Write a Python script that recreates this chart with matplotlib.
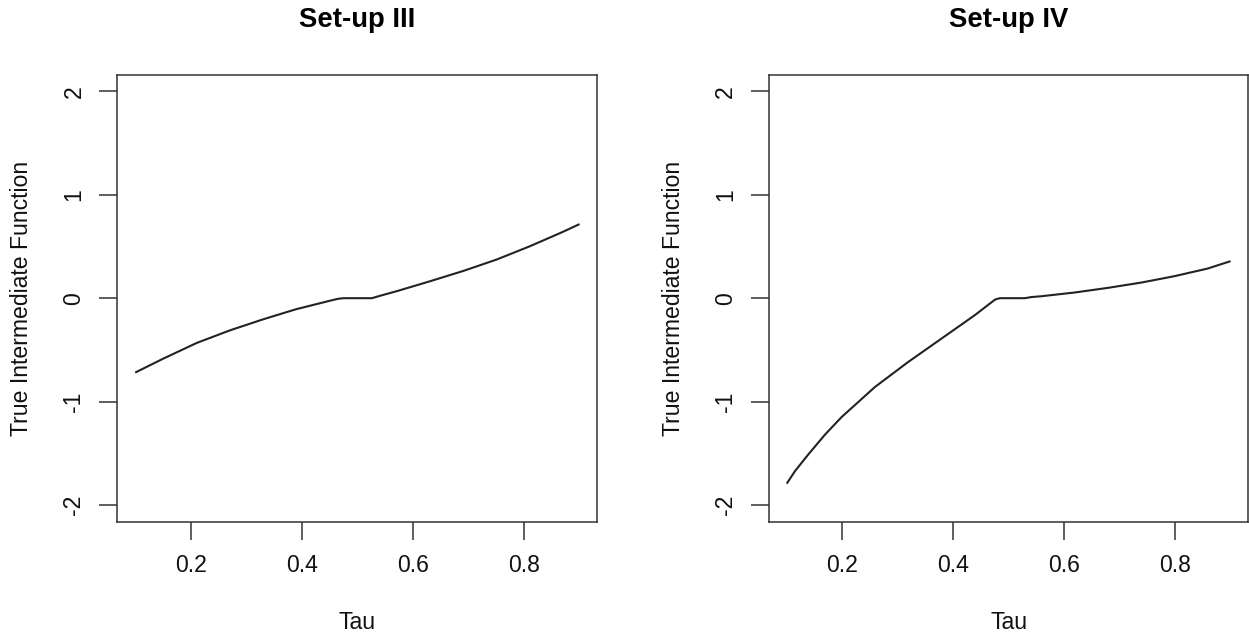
import matplotlib
matplotlib.use("Agg")
import matplotlib.pyplot as plt

plt.rcParams['font.family'] = ['Liberation Sans', 'DejaVu Sans']

tau_3 = [0.100, 0.151, 0.211, 0.271, 0.331, 0.390, 0.451, 0.465, 0.475, 0.500,
         0.526, 0.540, 0.571, 0.631, 0.691, 0.751, 0.811, 0.870, 0.900]
val_3 = [-0.719, -0.583, -0.432, -0.310, -0.203, -0.106, -0.024, -0.006, 0.0, 0.0,
         0.0, 0.022, 0.068, 0.164, 0.264, 0.374, 0.503, 0.641, 0.716]

tau_4 = [0.100, 0.115, 0.139, 0.169, 0.199, 0.259, 0.319, 0.379, 0.439, 0.469,
         0.476, 0.484, 0.500, 0.529, 0.541, 0.559, 0.619, 0.679, 0.739, 0.799,
         0.859, 0.900]
val_4 = [-1.792, -1.670, -1.509, -1.318, -1.148, -0.858, -0.616, -0.390, -0.164,
         -0.040, -0.012, 0.0, 0.0, 0.0, 0.011, 0.019, 0.055, 0.100, 0.151, 0.213,
         0.287, 0.358]

titles = ["Set-up III", "Set-up IV"]
x_ticks = [0.2, 0.4, 0.6, 0.8]
y_ticks = [-2, -1, 0, 1, 2]
x_label = "Tau"
y_label = "True Intermediate Function"

W, H = 1249, 633
fig = plt.figure(figsize=(W / 100, H / 100), dpi=100)

boxes = [(117.4, 597.3), (769.0, 1248.3)]
top_px, bot_px = 74.7, 521.7

series = [(tau_3, val_3), (tau_4, val_4)]
for (l, r), (tx, vy), title in zip(boxes, series, titles):
    ax = fig.add_axes([l / W, (H - bot_px) / H, (r - l) / W, (bot_px - top_px) / H])
    ax.plot(tx, vy, color='#222222', lw=1.5, solid_capstyle='butt',
            solid_joinstyle='round')
    ax.set_xlim(0.068, 0.932)
    ax.set_ylim(-2.16, 2.16)
    ax.set_xticks(x_ticks)
    ax.set_xticklabels([f"{t:.1f}" for t in x_ticks])
    ax.set_yticks(y_ticks)
    ax.set_yticklabels([str(t) for t in y_ticks], rotation=90, va='center')
    ax.tick_params(axis='both', length=13, width=1.1, color='#333333',
                   labelsize=16.6, labelcolor='#111111')
    ax.tick_params(axis='x', pad=10)
    ax.tick_params(axis='y', pad=10)
    for s in ax.spines.values():
        s.set_color('#333333')
        s.set_linewidth(1.1)
    ax.set_xlabel(x_label, fontsize=16.6, labelpad=25, color='#111111')
    ax.set_ylabel(y_label, fontsize=16.6, labelpad=21, color='#111111')
    ax.set_title(title, fontsize=19.8, fontweight='bold', pad=34)

fig.savefig("out.png", dpi=100, facecolor='white')
